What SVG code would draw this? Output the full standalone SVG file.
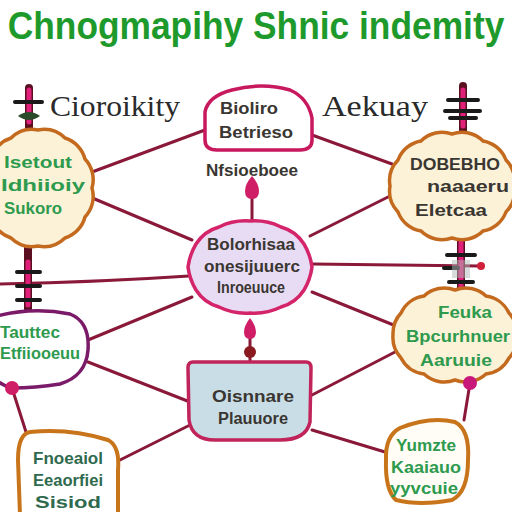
<svg xmlns="http://www.w3.org/2000/svg" width="512" height="512" viewBox="0 0 512 512">
<style>
.con{fill:none;stroke:#8a1838;stroke-width:3;stroke-linecap:round}
.bar{fill:none;stroke:#e0207a;stroke-width:5;stroke-linecap:round}
.barO{fill:none;stroke:#5a1020;stroke-width:8;stroke-linecap:round}
.tick{fill:none;stroke:#1a1a1a;stroke-width:4;stroke-linecap:round}
.cream{fill:#fcf2d8;stroke:#c46a1e;stroke-width:3.5}
.t{font-family:"Liberation Sans",Arial,sans-serif;font-weight:bold;text-anchor:middle}
.g{fill:#2e9a4e}
.dg{fill:#2f6a4e}
.k{fill:#3a3632}
.lab{font-family:"Liberation Serif","Times New Roman",serif;fill:#2a2a2a;font-size:29px}
</style>
<rect width="512" height="512" fill="#ffffff"/>
<g id="title" transform="translate(256,39) scale(0.93,1)">
<text x="0" y="0" font-family="Liberation Sans,Arial,sans-serif" font-weight="bold" font-size="38" fill="#1e9a2c" text-anchor="middle" textLength="534" lengthAdjust="spacingAndGlyphs">Chnogmapihy Shnic indemity</text>
</g>

<g id="connectors">
<path class="con" d="M92,172 L205,130"/>
<path class="con" d="M90,197 L192,240"/>
<path class="con" d="M312,135 L392,164"/>
<path class="con" d="M390,196 L310,236"/>
<path class="con" d="M0,284 Q100,282 189,276"/>
<path class="con" d="M312,264 L480,266"/>
<circle cx="481" cy="266" r="4" fill="#d0203a"/>
<path class="con" d="M192,297 L88,340"/>
<path class="con" d="M312,292 L396,326"/>
<path class="con" d="M395,352 L312,395"/>
<path class="con" d="M88,362 L190,402"/>
<path class="con" d="M190,425 L120,460"/>
<path class="con" d="M312,430 L385,452"/>
<path class="con" d="M252,192 L252,222"/>
<path class="con" d="M250,336 L250,362"/>
<path class="con" d="M12,388 L26,432"/>
<path class="con" d="M470,383 L464,420"/>
</g>

<g id="icon-tl">
<path class="barO" d="M29,88 L29,135"/>
<path class="bar" d="M29,90 L29,122"/>
<path class="tick" d="M15,102 L42,102"/>
<path d="M18,116 Q29,108 40,116 Q29,124 18,116 Z" fill="#2a4a2a"/>
</g>
<g id="icon-tr">
<path class="barO" d="M463,86 L463,134"/>
<path class="bar" d="M463,90 L463,126"/>
<path class="tick" d="M448,100 L478,100 M445,111 L480,111 M450,118 L476,118"/>
</g>
<g id="icon-ml">
<path class="barO" d="M28,244 L28,312"/>
<path class="bar" d="M28,262 L28,305"/>
<path class="tick" d="M17,272 L40,272 M17,286 L40,286 M17,300 L40,300"/>
</g>
<g id="icon-mr">
<path class="barO" d="M461,228 L461,300"/>
<path class="bar" d="M461,236 L461,295"/>
<path class="tick" d="M447,255 L475,255 M444,268 L458,268 M449,282 L473,282"/>
<path d="M452,260 L470,260 L470,278 L452,278 Z" fill="#b0b8b8" opacity="0.5"/>
</g>

<g id="label-left"><text class="lab" x="115" y="116" text-anchor="middle" textLength="130" lengthAdjust="spacingAndGlyphs">Cioroikity</text></g>
<g id="label-right"><text class="lab" x="375" y="116" text-anchor="middle" textLength="106" lengthAdjust="spacingAndGlyphs">Aekuay</text></g>

<g id="node-tl">
<path class="cream" d="M38,130 A30,30 0 0 1 65,138 A30,30 0 0 1 85,159 A30,30 0 0 1 92,188 A30,30 0 0 1 85,217 A30,30 0 0 1 65,238 A30,30 0 0 1 38,246 A30,30 0 0 1 11,238 A30,30 0 0 1 -9,217 A30,30 0 0 1 -16,188 A30,30 0 0 1 -9,159 A30,30 0 0 1 11,138 A30,30 0 0 1 38,130 Z"/>
<text class="t g" font-size="17" x="38" y="168" textLength="68" lengthAdjust="spacingAndGlyphs">Isetout</text>
<text class="t g" font-size="17" x="43" y="191" textLength="84" lengthAdjust="spacingAndGlyphs">Idhiioiy</text>
<text class="t g" font-size="17" x="33" y="214" textLength="58" lengthAdjust="spacingAndGlyphs">Sukoro</text>
</g>

<g id="node-top">
<path d="M205,140 L205,112 Q208,96 232,90 Q262,82 290,90 Q308,98 312,118 L312,140 Q312,150 300,150 L217,150 Q205,150 205,140 Z" fill="#ffffff" stroke="#c8185e" stroke-width="3.5"/>
<text class="t k" font-size="17" x="249" y="114" textLength="58" lengthAdjust="spacingAndGlyphs">Bioliro</text>
<text class="t k" font-size="17" x="256" y="138" textLength="74" lengthAdjust="spacingAndGlyphs">Betrieso</text>
<text class="t k" font-size="17" x="252" y="176" textLength="92" lengthAdjust="spacingAndGlyphs">Nfsioeboee</text>
<path d="M252,176 Q259,184 259,191 Q259,199 252,199 Q245,199 245,191 Q245,184 252,176 Z" fill="#d01e66"/>
</g>

<g id="node-tr">
<path class="cream" d="M452,134 A30,30 0 0 1 483,141 A30,30 0 0 1 506,160 A30,30 0 0 1 514,186 A30,30 0 0 1 506,212 A30,30 0 0 1 483,231 A30,30 0 0 1 452,238 A30,30 0 0 1 421,231 A30,30 0 0 1 398,212 A30,30 0 0 1 390,186 A30,30 0 0 1 398,160 A30,30 0 0 1 421,141 A30,30 0 0 1 452,134 Z"/>
<text class="t k" font-size="17" x="455" y="170" textLength="90" lengthAdjust="spacingAndGlyphs">DOBEBHO</text>
<text class="t k" font-size="17" x="468" y="192" textLength="82" lengthAdjust="spacingAndGlyphs">naaaeru</text>
<text class="t k" font-size="17" x="451" y="216" textLength="72" lengthAdjust="spacingAndGlyphs">Eletcaa</text>
</g>

<g id="node-center">
<path d="M250,221 A60,60 0 0 1 281,227 A40,40 0 0 1 304,244 A60,60 0 0 1 312,267 A60,60 0 0 1 304,290 A40,40 0 0 1 281,307 A60,60 0 0 1 250,313 A60,60 0 0 1 219,307 A40,40 0 0 1 196,290 A60,60 0 0 1 188,267 A60,60 0 0 1 196,244 A40,40 0 0 1 219,227 A60,60 0 0 1 250,221 Z" fill="#e8dcf4" stroke="#d4246a" stroke-width="3.5"/>
<text class="t k" font-size="16" x="251" y="250" textLength="88" lengthAdjust="spacingAndGlyphs">Bolorhisaa</text>
<text class="t k" font-size="16" x="252" y="272" textLength="96" lengthAdjust="spacingAndGlyphs">onesijuuerc</text>
<text class="t k" font-size="16" x="251" y="293" textLength="68" lengthAdjust="spacingAndGlyphs">Inroeuuce</text>
</g>

<g id="node-ml">
<path d="M-10,318 Q30,306 70,314 Q90,322 88,350 Q86,376 60,384 Q35,388 12,388 Q-5,384 -10,370 Z" fill="#ffffff" stroke="#7a1a68" stroke-width="3.5"/>
<circle cx="12" cy="388" r="7" fill="#d01e66"/>
<text class="t g" font-size="17" x="30" y="338" textLength="60" lengthAdjust="spacingAndGlyphs">Tauttec</text>
<text class="t g" font-size="17" x="40" y="359" textLength="80" lengthAdjust="spacingAndGlyphs">Etfiiooeuu</text>
</g>

<g id="node-mr">
<path class="cream" d="M455,290 A30,30 0 0 1 486,296 A30,30 0 0 1 509,313 A30,30 0 0 1 517,335 A30,30 0 0 1 509,358 A30,30 0 0 1 486,374 A30,30 0 0 1 455,380 A30,30 0 0 1 424,374 A30,30 0 0 1 401,358 A30,30 0 0 1 393,335 A30,30 0 0 1 401,313 A30,30 0 0 1 424,296 A30,30 0 0 1 455,290 Z"/>
<circle cx="470" cy="383" r="7" fill="#c8187a"/>
<text class="t g" font-size="17" x="465" y="318" textLength="54" lengthAdjust="spacingAndGlyphs">Feuka</text>
<text class="t g" font-size="17" x="458" y="342" textLength="104" lengthAdjust="spacingAndGlyphs">Bpcurhnuer</text>
<text class="t g" font-size="17" x="456" y="366" textLength="72" lengthAdjust="spacingAndGlyphs">Aaruuie</text>
</g>

<g id="node-bc">
<path d="M193,362 L306,362 Q311,362 311,368 L310,422 Q306,440 280,440 L215,440 Q192,440 189,420 L188,368 Q188,362 193,362 Z" fill="#c9dde6" stroke="#c0245a" stroke-width="3.5"/>
<path d="M250,318 Q256,326 256,332 Q256,339 250,339 Q244,339 244,332 Q244,326 250,318 Z" fill="#d01e66"/>
<circle cx="250" cy="352" r="6" fill="#8a1a20"/>
<text class="t k" font-size="16" x="253" y="402" textLength="82" lengthAdjust="spacingAndGlyphs">Oisnnare</text>
<text class="t k" font-size="16" x="253" y="424" textLength="70" lengthAdjust="spacingAndGlyphs">Plauuore</text>
</g>

<g id="node-bl">
<path d="M30,432 Q70,428 108,440 Q120,446 118,470 L118,515 L20,515 L18,460 Q18,434 30,432 Z" fill="#ffffff" stroke="#c8741a" stroke-width="4"/>
<text class="t dg" font-size="17" x="68" y="464" textLength="70" lengthAdjust="spacingAndGlyphs">Fnoeaiol</text>
<text class="t dg" font-size="17" x="68" y="486" textLength="70" lengthAdjust="spacingAndGlyphs">Eeaorfiei</text>
<text class="t dg" font-size="17" x="68" y="508" textLength="66" lengthAdjust="spacingAndGlyphs">Sisiod</text>
</g>

<g id="node-br">
<path d="M400,428 Q430,416 455,422 Q470,430 468,460 Q468,492 452,500 Q420,506 396,500 Q385,490 386,460 Q385,436 400,428 Z" fill="#fffdf6" stroke="#c8741a" stroke-width="4"/>
<text class="t g" font-size="16" x="426" y="451" textLength="60" lengthAdjust="spacingAndGlyphs">Yumzte</text>
<text class="t g" font-size="16" x="426" y="473" textLength="70" lengthAdjust="spacingAndGlyphs">Kaaiauo</text>
<text class="t g" font-size="16" x="424" y="494" textLength="68" lengthAdjust="spacingAndGlyphs">yyvcuie</text>
</g>
</svg>
